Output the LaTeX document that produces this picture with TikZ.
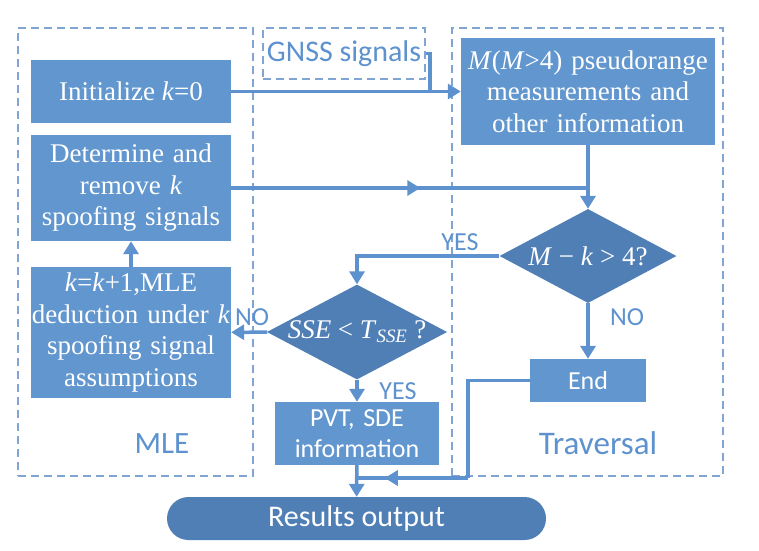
\documentclass[tikz,border=0pt]{standalone}
\usepackage{fontspec}
\setmainfont{Liberation Serif}
\newfontfamily\sansfont{Carlito}
\usetikzlibrary{shapes.geometric,arrows.meta,decorations.markings}
\definecolor{boxblue}{RGB}{98,150,206}
\definecolor{diablue}{RGB}{80,127,182}
\definecolor{lineblue}{RGB}{93,146,206}
\definecolor{dashblue}{RGB}{128,165,210}
\begin{document}
\begin{tikzpicture}[x = 1pt, y = -1pt,
        proc/.style = {rectangle, fill=boxblue, text=white, inner sep=0pt, align=center,
                font=\fontsize{27}{31.5}\selectfont},
        sproc/.style = {proc, font=\sansfont\fontsize{26}{31}\selectfont},
        decision/.style = {diamond, fill=diablue, text=white, inner sep=0pt, shape aspect=1.9,
                font=\fontsize{27}{31}\selectfont, minimum width=177pt, minimum height=94pt},
        region/.style = {draw=dashblue, dash pattern=on 8pt off 5pt, line width=1.2pt},
        lbl/.style = {text=lineblue, inner sep=0pt, font=\sansfont\fontsize{26}{31}\selectfont},
        line/.style = {draw, color=lineblue, line width=3.5pt},
        arr/.style = {line, -{Triangle[width=15pt,length=13pt]}},
        midarr/.style = {postaction={decorate}, decoration={markings,
                mark=at position #1 with {\arrow{Triangle[width=15pt,length=13pt]}}}}]
                \useasboundingbox (0, 0) rectangle (759, 550);

                % dashed regions
                \node[region, minimum width=235pt, minimum height=448pt] (mle) at (135.5, 252) {};
                \node[region, minimum width=271pt, minimum height=448pt] (trav) at (587.5, 252) {};
                \node[region, minimum width=162pt, minimum height=51pt, lbl, font=\sansfont\fontsize{30}{31}\selectfont] (gnss) at (344, 53.5) {GNSS signals};
                \node[lbl, font=\sansfont\fontsize{31}{31}\selectfont] (mlename) at (162, 444) {MLE};
                \node[lbl, font=\sansfont\fontsize{33}{31}\selectfont] (travname) at (598, 443) {Traversal};

                % steps
                \node[proc, minimum width=200pt, minimum height=63pt] (init) at (131, 91.5) {Initialize \textit{k}=0};
                \node[proc, minimum width=200pt, minimum height=106pt, text width=198pt] (det) at (131, 188)
                        {Determine and\\remove \textit{k}\\spoofing signals};
                \node[proc, minimum width=200pt, minimum height=131pt, text width=200pt] (kinc) at (131, 332.5)
                        {\textit{k}=\textit{k}+1,MLE\\deduction under \textit{k}\\spoofing signal\\assumptions};
                \node[proc, minimum width=254pt, minimum height=107pt, text width=252pt] (meas) at (588, 91.5)
                        {\textit{M}(\textit{M}>4) pseudorange\\measurements and\\other information};
                \node[decision] (mk) at (588, 256) {\textit{M} − \textit{k} > 4?};
                \node[decision, minimum height=93pt] (sse) at (357, 332)
                        {\textit{SSE} < \textit{T}\textsubscript{\textit{SSE}} ?};
                \node[sproc, minimum width=164pt, minimum height=63pt, text width=160pt] (pvt) at (357, 433.5)
                        {PVT, SDE\\information};
                \node[sproc, minimum width=116pt, minimum height=43pt] (end) at (588, 380.5) {End};
                \node[sproc, fill=diablue, rounded corners=21.5pt, minimum width=379pt, minimum height=43pt,
                        font=\sansfont\fontsize{30}{31}\selectfont] (res) at (356.5, 518.5) {Results output};

                % joints
                \coordinate (gj) at (430, 91.5);
                \coordinate (dj) at (meas.south |- det.east);
                \coordinate (ej) at (468, 478);
                \coordinate (pj) at (pvt.south |- ej);

                % connectors
                \draw[arr] (init) -- (meas);
                \draw[line] (gnss.east) -| (gj);
                \draw[line, midarr=0.53] (det.east) -- (dj);
                \draw[arr] (meas) -- (mk);
                \draw[arr] (mk.west) -| (sse.north);
                \draw[arr] (mk) -- (end);
                \draw[arr] (sse) -- (kinc);
                \draw[arr] (kinc) -- (det);
                \draw[arr] (sse) -- (pvt);
                \draw[arr] (pvt) -- (res);
                \draw[line] (end.west) -| (ej);
                \draw[line, midarr=0.75] (ej) -- (pj);

                % branch labels
                \node[lbl] (yes1) at (460, 242) {YES};
                \node[lbl] (no1) at (627, 317) {NO};
                \node[lbl] (no2) at (252, 317) {NO};
                \node[lbl] (yes2) at (398, 391) {YES};
            \end{tikzpicture}
\end{document}
